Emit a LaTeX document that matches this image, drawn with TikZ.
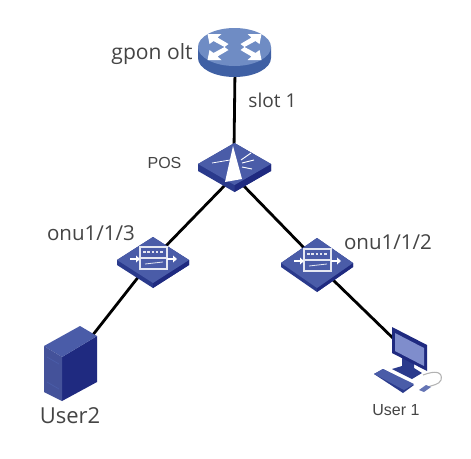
\documentclass[tikz,border=0pt]{standalone}
\usepackage{fontspec}
\setmainfont{Open Sans}
\newfontfamily\arialf{Liberation Sans}
\definecolor{topblue}{HTML}{4A5CA8}
\definecolor{sideblue}{HTML}{2A3A8C}
\definecolor{darkblue}{HTML}{1F2A80}
\definecolor{routertop}{HTML}{6F8CC4}
\definecolor{routerside}{HTML}{3F60A4}
\definecolor{screenblue}{HTML}{7F8DCC}
\definecolor{labelc}{HTML}{444444}
\tikzset{
  lab/.style={inner sep=0pt,text=labelc,anchor=center},
  small/.style={inner sep=0pt,text=labelc,anchor=center,font=\arialf\fontsize{12}{14}\selectfont},
  link/.style={line width=2.1pt,black},
  pt/.style={inner sep=0pt,minimum size=0pt},
  glyph/.style={draw=white!85!topblue,line width=0.8pt},
}
% #1 = centre of the top face, #2 half width, #3 half height, #4 thickness
\newcommand{\slab}[4]{%
  \fill[sideblue] (#1)++(-#2,0) -- ++(#2,-#3) -- ++(#2,#3) -- ++(0,#4) -- ++(-#2,#3) -- ++(-#2,-#3) -- cycle;
  \fill[darkblue] (#1)++(0,#3) -- ++(#2,-#3) -- ++(0,#4) -- ++(-#2,#3) -- cycle;
  \fill[topblue] (#1)++(-#2,0) -- ++(#2,-#3) -- ++(#2,#3) -- ++(-#2,#3) -- cycle;
}
\newcommand{\onuglyph}[1]{%
  \begin{scope}[shift={(#1)}]
    \draw[glyph] (-13,-12) rectangle (14,10);
    \draw[glyph] (-13,-1) -- (14,-1);
    \draw[glyph,line width=1.3pt,dash pattern=on 2pt off 1.2pt] (-10,-7) -- (11,-7);
    \draw[glyph,line width=0.6pt] (-8,5) -- (10,3);
    \fill[white] (-23,-1) rectangle (-17,1);
    \fill[white] (-17,-3.5) -- (-13,0) -- (-17,3.5) -- cycle;
    \fill[white] (14,-1) rectangle (20,1);
    \fill[white] (20,-3.5) -- (24,0) -- (20,3.5) -- cycle;
  \end{scope}
}
\begin{document}
\begin{tikzpicture}[x=0.75pt,y=-0.75pt]
\useasboundingbox (0,0) rectangle (471,458);
\fill[white] (0,0) rectangle (471,458);

% connector end points
\node[pt] (oltS) at (235,70) {};
\node[pt] (posN) at (234,150) {};
\node[pt] (posW) at (230,180) {};
\node[pt] (posE) at (238,180) {};
\node[pt] (onu3N) at (160,252) {};
\node[pt] (onu3S) at (143,271) {};
\node[pt] (onu2N) at (310,254) {};
\node[pt] (onu2S) at (329,276) {};
\node[pt] (srv) at (92,336) {};
\node[pt] (pc) at (398,343) {};

\draw[link] (oltS) -- (posN);
\draw[link] (posW) -- (onu3N);
\draw[link] (posE) -- (onu2N);
\draw[link] (onu3S) -- (srv);
\draw[link] (onu2S) -- (pc);

% OLT router
\fill[routerside] (198,47) -- (198,58) arc[start angle=180,end angle=0,x radius=36.5,y radius=19] -- (271,47) -- cycle;
\fill[routertop] (234.5,47) ellipse[x radius=36.5,y radius=19];
\begin{scope}[shift={(234.5,47)},white]
  \fill (-27,-13) -- (-13,-13) -- (-17,-9.5) -- (-6,-3) -- (-10,0) -- (-21,-6) -- (-25,-3) -- cycle;
  \fill (27,-13) -- (13,-13) -- (17,-9.5) -- (6,-3) -- (10,0) -- (21,-6) -- (25,-3) -- cycle;
  \fill (-27,13) -- (-13,13) -- (-17,9.5) -- (-6,3) -- (-10,0) -- (-21,6) -- (-25,3) -- cycle;
  \fill (27,13) -- (13,13) -- (17,9.5) -- (6,3) -- (10,0) -- (21,6) -- (25,3) -- cycle;
\end{scope}

% POS splitter
\slab{234.5,164}{36.5}{21}{7}
\fill[white] (225,182) -- (233,146) -- (242,179) -- cycle;
\draw[white,line width=0.6pt] (212,163) -- (230,160);
\draw[white,line width=0.7pt] (241,160) -- (251,153);
\draw[white,line width=0.7pt] (242,163) -- (254,160);
\draw[white,line width=0.7pt] (242,167) -- (252,169);

% ONUs
\slab{153,260}{36}{23}{5}
\onuglyph{153,259}
\slab{317,263}{36}{25}{4}
\onuglyph{317,261}

% server
\fill[darkblue] (62,357) -- (97,336) -- (97,382) -- (62,401) -- cycle;
\fill[topblue] (44,346) -- (80,326) -- (97,336) -- (62,357) -- cycle;
\fill[sideblue!88!white] (44,346) -- (62,357) -- (62,401) -- (44,392) -- cycle;
\draw[topblue,line width=0.6pt] (47,357) -- (59,364);
\draw[topblue,line width=0.6pt] (47,382) -- (59,389);

% PC
\fill[sideblue] (402,358) -- (402,366) -- (392,369) -- (412,379) -- (422,373) -- (414,368) -- (414,362) -- cycle;
\fill[darkblue] (392,327) -- (427,345) -- (427,371) -- (392,353) -- cycle;
\fill[screenblue] (395,333) -- (424,348) -- (424,366) -- (395,351) -- cycle;
\fill[sideblue] (374,374) -- (383,369) -- (414,385) -- (403,393) -- cycle;
\fill[topblue] (374,374) -- (383,369) -- (414,384) -- (404,390) -- cycle;
\draw[gray!60,line width=0.8pt] (423,375) .. controls (436,370) and (443,372) .. (441,380) .. controls (439,385) and (432,385) .. (428,387);
\fill[topblue!85!white] (419,390) -- (426,385) -- (431,387) -- (424,392) -- cycle;

% labels
\node[lab,font=\fontsize{15.8}{18}\selectfont] (lolt) at (152,54) {gpon olt};
\node[lab,font=\fontsize{14.3}{16}\selectfont] (lslot) at (272.5,100) {slot 1};
\node[small] (lpos) at (164.5,163) {POS};
\node[lab,font=\fontsize{15.4}{18}\selectfont] (lonu3) at (91,233) {onu1/1/3};
\node[lab,font=\fontsize{15.4}{18}\selectfont] (lonu2) at (388,242) {onu1/1/2};
\node[lab,font=\fontsize{16.5}{19}\selectfont] (luser2) at (70,416) {User2};
\node[small] (luser1) at (396,410) {User 1};
\end{tikzpicture}
\end{document}
